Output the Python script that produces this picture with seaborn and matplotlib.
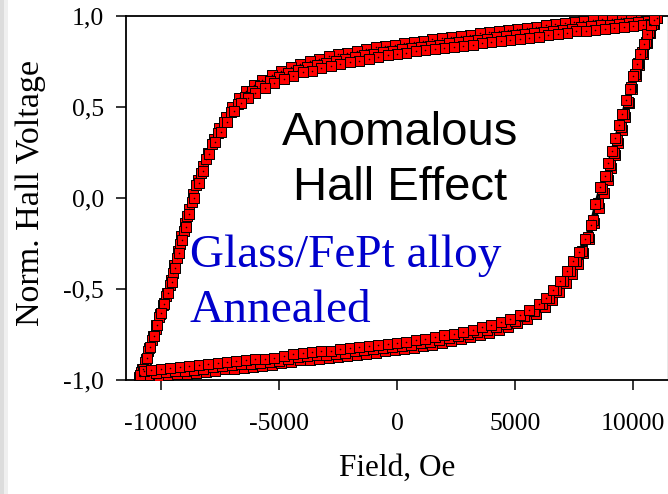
import matplotlib
matplotlib.use("Agg")
import matplotlib.pyplot as plt
import pandas as pd
import seaborn as sns
from matplotlib.patches import Rectangle

# ---- measured Hall voltage (normalised) vs field, three consecutive sweeps ----
# sweep 1: outermost loop
down1_field = [10950, 10620, 10300, 9900, 9500, 9100, 8700, 8300, 7900, 7500, 7100, 6700,
               6300, 5900, 5500, 5100, 4700, 4300, 3900, 3500, 3100, 2700, 2300, 1900,
               1500, 1100, 700, 300, -100, -500, -900, -1300, -1700, -2100, -2500, -2900,
               -3300, -3700, -4100, -4500, -4900, -5300, -5700, -6050, -6380, -6680, -6980,
               -7260, -7520, -7760, -8000, -8230, -8440, -8640, -8820, -8990, -9140, -9290,
               -9440, -9590, -9740, -9890, -10040, -10190, -10340, -10490, -10640, -10800,
               -10950]
down1_hall = [0.995, 0.995, 0.993, 0.99, 0.988, 0.985, 0.981, 0.977, 0.972, 0.966, 0.96, 0.954,
              0.948, 0.942, 0.936, 0.93, 0.924, 0.918, 0.911, 0.905, 0.898, 0.892, 0.885, 0.879,
              0.872, 0.865, 0.858, 0.851, 0.843, 0.835, 0.827, 0.818, 0.809, 0.799, 0.789, 0.778,
              0.766, 0.752, 0.737, 0.72, 0.70, 0.677, 0.65, 0.62, 0.587, 0.548, 0.50,
              0.447, 0.387, 0.325, 0.25, 0.175, 0.10, 0.02, -0.06, -0.14, -0.21, -0.29,
              -0.37, -0.45, -0.52, -0.575, -0.635, -0.70, -0.76, -0.825, -0.885, -0.94,
              -0.985]
up1_field = [-10950, -10750, -10450, -10100, -9700, -9300, -8900, -8500, -8100, -7700, -7300,
             -6900, -6500, -6100, -5700, -5300, -4900, -4500, -4100, -3700, -3300, -2900,
             -2500, -2100, -1700, -1300, -900, -500, -100, 300, 700, 1100, 1500, 1900, 2300,
             2700, 3100, 3500, 3900, 4300, 4700, 5100, 5500, 5900, 6250, 6550, 6850, 7150,
             7400, 7650, 7900, 8150, 8350, 8550, 8750, 8920, 9070, 9220, 9370, 9520, 9670,
             9820, 9970, 10120, 10270, 10420, 10570, 10720, 10870, 11000]
up1_hall = [-0.99, -0.985, -0.98, -0.977, -0.973, -0.969, -0.965, -0.96, -0.954, -0.948, -0.942,
            -0.937, -0.933, -0.929, -0.924, -0.918, -0.909, -0.899, -0.892, -0.888, -0.884, -0.879,
            -0.873, -0.867, -0.861, -0.855, -0.849, -0.843, -0.837, -0.83, -0.822, -0.814, -0.806,
            -0.797, -0.787, -0.777, -0.766, -0.754, -0.741, -0.726, -0.709, -0.689, -0.665,
            -0.635, -0.598, -0.562, -0.518, -0.466, -0.415, -0.36, -0.30, -0.225, -0.14,
            -0.055, 0.03, 0.10, 0.165, 0.235, 0.30, 0.375, 0.445, 0.52, 0.60, 0.67, 0.73,
            0.79, 0.85, 0.905, 0.955, 0.99]

# sweep 2
down2_field = [10850, 10550, 10200, 9800, 9400, 9000, 8600, 8200, 7800, 7400, 7000, 6600,
               6200, 5800, 5400, 5000, 4600, 4200, 3800, 3400, 3000, 2600, 2200, 1800, 1400,
               1000, 600, 200, -200, -600, -1000, -1400, -1800, -2200, -2600, -3000, -3400,
               -3800, -4200, -4600, -5000, -5400, -5800, -6150, -6450, -6750, -7050, -7330,
               -7580, -7830, -8080, -8300, -8500, -8700, -8880, -9030, -9180, -9330, -9480,
               -9630, -9780, -9930, -10080, -10230, -10380, -10530, -10680, -10830]
down2_hall = [0.985, 0.975, 0.968, 0.963, 0.958, 0.953, 0.948, 0.943, 0.937, 0.931, 0.925, 0.919,
              0.913, 0.907, 0.901, 0.895, 0.889, 0.882, 0.876, 0.869, 0.863, 0.856, 0.85, 0.843,
              0.836, 0.83, 0.823, 0.816, 0.808, 0.80, 0.792, 0.783, 0.774, 0.764, 0.754, 0.743,
              0.731, 0.718, 0.703, 0.686, 0.666, 0.643, 0.617, 0.587, 0.556, 0.518, 0.47, 0.415,
              0.355, 0.295, 0.215, 0.14, 0.07, -0.02, -0.10, -0.18, -0.25, -0.33, -0.41,
              -0.48, -0.54, -0.59, -0.655, -0.72, -0.78, -0.84, -0.90, -0.955]
up2_field = [-10800, -10550, -10200, -9800, -9400, -9000, -8600, -8200, -7800, -7400, -7000,
             -6600, -6200, -5800, -5400, -5000, -4600, -4200, -3800, -3400, -3000, -2600,
             -2200, -1800, -1400, -1000, -600, -200, 200, 600, 1000, 1400, 1800, 2200, 2600,
             3000, 3400, 3800, 4200, 4600, 5000, 5400, 5800, 6150, 6450, 6750, 7050, 7330,
             7580, 7830, 8080, 8300, 8500, 8700, 8880, 9030, 9180, 9330, 9480, 9630, 9780,
             9930, 10080, 10230, 10380, 10530, 10680, 10830]
up2_hall = [-0.98, -0.97, -0.963, -0.958, -0.953, -0.948, -0.943, -0.937, -0.93, -0.924, -0.918,
            -0.914, -0.91, -0.906, -0.90, -0.893, -0.883, -0.875, -0.869, -0.865, -0.86, -0.855,
            -0.849, -0.843, -0.837, -0.831, -0.825, -0.819, -0.812, -0.805, -0.797, -0.789,
            -0.78, -0.77, -0.76, -0.749, -0.738, -0.725, -0.711, -0.694, -0.674, -0.65, -0.62,
            -0.585, -0.55, -0.505, -0.455, -0.40, -0.345, -0.29, -0.215, -0.12, -0.03, 0.05,
            0.12, 0.18, 0.25, 0.32, 0.39, 0.46, 0.53, 0.61, 0.68, 0.74, 0.80, 0.855, 0.91,
            0.955]

# sweep 3: innermost loop
down3_field = [11000, 10700, 10400, 10000, 9600, 9200, 8800, 8400, 8000, 7600, 7200, 6800,
               6400, 6000, 5600, 5200, 4800, 4400, 4000, 3600, 3200, 2800, 2400, 2000, 1600,
               1200, 800, 400, 0, -400, -800, -1200, -1600, -2000, -2400, -2800, -3200, -3600,
               -4000, -4400, -4800, -5200, -5600, -6000, -6300, -6600, -6900, -7200, -7450,
               -7700, -7950, -8200, -8400, -8600, -8800, -8950, -9100, -9250, -9400, -9550,
               -9700, -9850, -10000, -10150, -10300, -10450, -10600, -10750, -10900]
down3_hall = [0.99, 0.955, 0.95, 0.945, 0.94, 0.935, 0.93, 0.925, 0.92, 0.915, 0.905, 0.90,
              0.893, 0.887, 0.88, 0.875, 0.868, 0.862, 0.856, 0.85, 0.843, 0.837, 0.83, 0.824,
              0.818, 0.812, 0.805, 0.798, 0.79, 0.783, 0.775, 0.765, 0.755, 0.745, 0.735, 0.725,
              0.712, 0.70, 0.69, 0.672, 0.652, 0.63, 0.605, 0.575, 0.55, 0.52, 0.48, 0.42,
              0.36, 0.305, 0.24, 0.15, 0.085, 0.0, -0.09, -0.16, -0.23, -0.30, -0.385, -0.46,
              -0.52, -0.58, -0.63, -0.70, -0.76, -0.82, -0.88, -0.94, -0.98]
up3_field = [-10900, -10700, -10400, -10000, -9600, -9200, -8800, -8400, -8000, -7600, -7200,
             -6800, -6400, -6000, -5600, -5200, -4800, -4400, -4000, -3600, -3200, -2800,
             -2400, -2000, -1600, -1200, -800, -400, 0, 400, 800, 1200, 1600, 2000, 2400, 2800,
             3200, 3600, 4000, 4400, 4800, 5200, 5600, 6000, 6300, 6600, 6900, 7200, 7450,
             7700, 7950, 8200, 8400, 8600, 8800, 8950, 9100, 9250, 9400, 9550, 9700, 9850,
             10000, 10150, 10300, 10450, 10600, 10750, 10900]
up3_hall = [-0.975, -0.95, -0.945, -0.94, -0.935, -0.93, -0.925, -0.92, -0.913, -0.906, -0.90,
            -0.895, -0.891, -0.887, -0.883, -0.877, -0.868, -0.858, -0.852, -0.848, -0.843,
            -0.838, -0.832, -0.826, -0.82, -0.814, -0.808, -0.802, -0.796, -0.789, -0.781,
            -0.773, -0.764, -0.755, -0.745, -0.734, -0.723, -0.711, -0.698, -0.682, -0.664,
            -0.643, -0.616, -0.582, -0.55, -0.508, -0.458, -0.40, -0.345, -0.295, -0.225,
            -0.15, -0.035, 0.06, 0.12, 0.19, 0.26, 0.33, 0.40, 0.46, 0.54, 0.60, 0.67, 0.735,
            0.79, 0.845, 0.90, 0.95, 0.98]

x_ticks = [-10000, -5000, 0, 5000, 10000]
x_tick_labels = ["-10000", "-5000", "0", "5000", "10000"]
y_ticks = [-1.0, -0.5, 0.0, 0.5, 1.0]
y_tick_labels = ["-1,0", "-0,5", "0,0", "0,5", "1,0"]

sweeps = [
    (down1_field, down1_hall, up1_field, up1_hall),
    (down2_field, down2_hall, up2_field, up2_hall),
    (down3_field, down3_hall, up3_field, up3_hall),
]

frames = []
for i, (df_, dh_, uf_, uh_) in enumerate(sweeps, start=1):
    assert len(df_) == len(dh_) and len(uf_) == len(uh_)
    frames.append(pd.DataFrame({"field": df_ + uf_, "hall": dh_ + uh_, "sweep": i,
                                "order": range(len(df_) + len(uf_))}))
data = pd.concat(frames, ignore_index=True)

sns.set_theme(style="ticks")
plt.rcParams["font.family"] = ["Liberation Serif", "DejaVu Serif"]

fig = plt.figure(figsize=(6.68, 4.94), dpi=100)
ax = fig.add_axes([126 / 668, 114 / 494, 542 / 668, 364 / 494])

# connecting lines underneath the markers
for i in (1, 2, 3):
    d = data[data["sweep"] == i]
    sns.lineplot(data=d, x="field", y="hall", sort=False, estimator=None,
                 color="black", linewidth=1.9, ax=ax, zorder=2)

# square markers, each with a small centre dot
for i in (1, 2, 3):
    d = data[data["sweep"] == i]
    sns.scatterplot(data=d, x="field", y="hall", marker="s", s=46, color="#FF0000",
                    edgecolor="black", linewidth=0.7, ax=ax, zorder=3 + i)
    sns.scatterplot(data=d, x="field", y="hall", marker="o", s=1.3, color="black",
                    linewidth=0, ax=ax, zorder=3 + i)

ax.set_xlim(-11480, 11480)
ax.set_ylim(-1.0, 1.0)
ax.set_xticks(x_ticks)
ax.set_xticklabels(x_tick_labels)
ax.set_yticks(y_ticks)
ax.set_yticklabels(y_tick_labels)
ax.tick_params(axis="both", direction="out", length=7, width=1.1, color="black",
               labelsize=18.5, labelcolor="black")
ax.tick_params(axis="x", pad=17)
ax.tick_params(axis="y", pad=9)

for side in ("left", "bottom", "top"):
    ax.spines[side].set_visible(True)
    ax.spines[side].set_color("black")
    ax.spines[side].set_linewidth(1.3)
ax.spines["right"].set_visible(True)
ax.spines["right"].set_color("#8a8a8a")
ax.spines["right"].set_linewidth(1.0)

ax.set_xlabel("Field, Oe", fontsize=22.5, labelpad=13, color="black")
ax.set_ylabel("Norm. Hall Voltage", fontsize=24.5, color="black")
ax.yaxis.set_label_coords(-0.147, 0.515)

ax.text(130, 0.29, "Anomalous", family=["Liberation Sans", "DejaVu Sans"], fontsize=34,
        ha="center", va="baseline", color="black", zorder=10)
ax.text(130, -0.01, "Hall Effect", family=["Liberation Sans", "DejaVu Sans"], fontsize=34,
        ha="center", va="baseline", color="black", zorder=10)
ax.text(-8780, -0.379, "Glass/FePt alloy", fontsize=34, ha="left", va="baseline",
        color="#0000CC", zorder=10)
ax.text(-8780, -0.681, "Annealed", fontsize=34, ha="left", va="baseline",
        color="#0000CC", zorder=10)

# faint shaded strip along the left edge of the figure
fig.patches.append(Rectangle((0, 0), 4 / 668, 1, transform=fig.transFigure,
                             facecolor="#dcdcdc", edgecolor="none"))
fig.patches.append(Rectangle((4 / 668, 0), 4 / 668, 1, transform=fig.transFigure,
                             facecolor="#efefef", edgecolor="none"))

fig.savefig("out.png", dpi=100, facecolor="white")
